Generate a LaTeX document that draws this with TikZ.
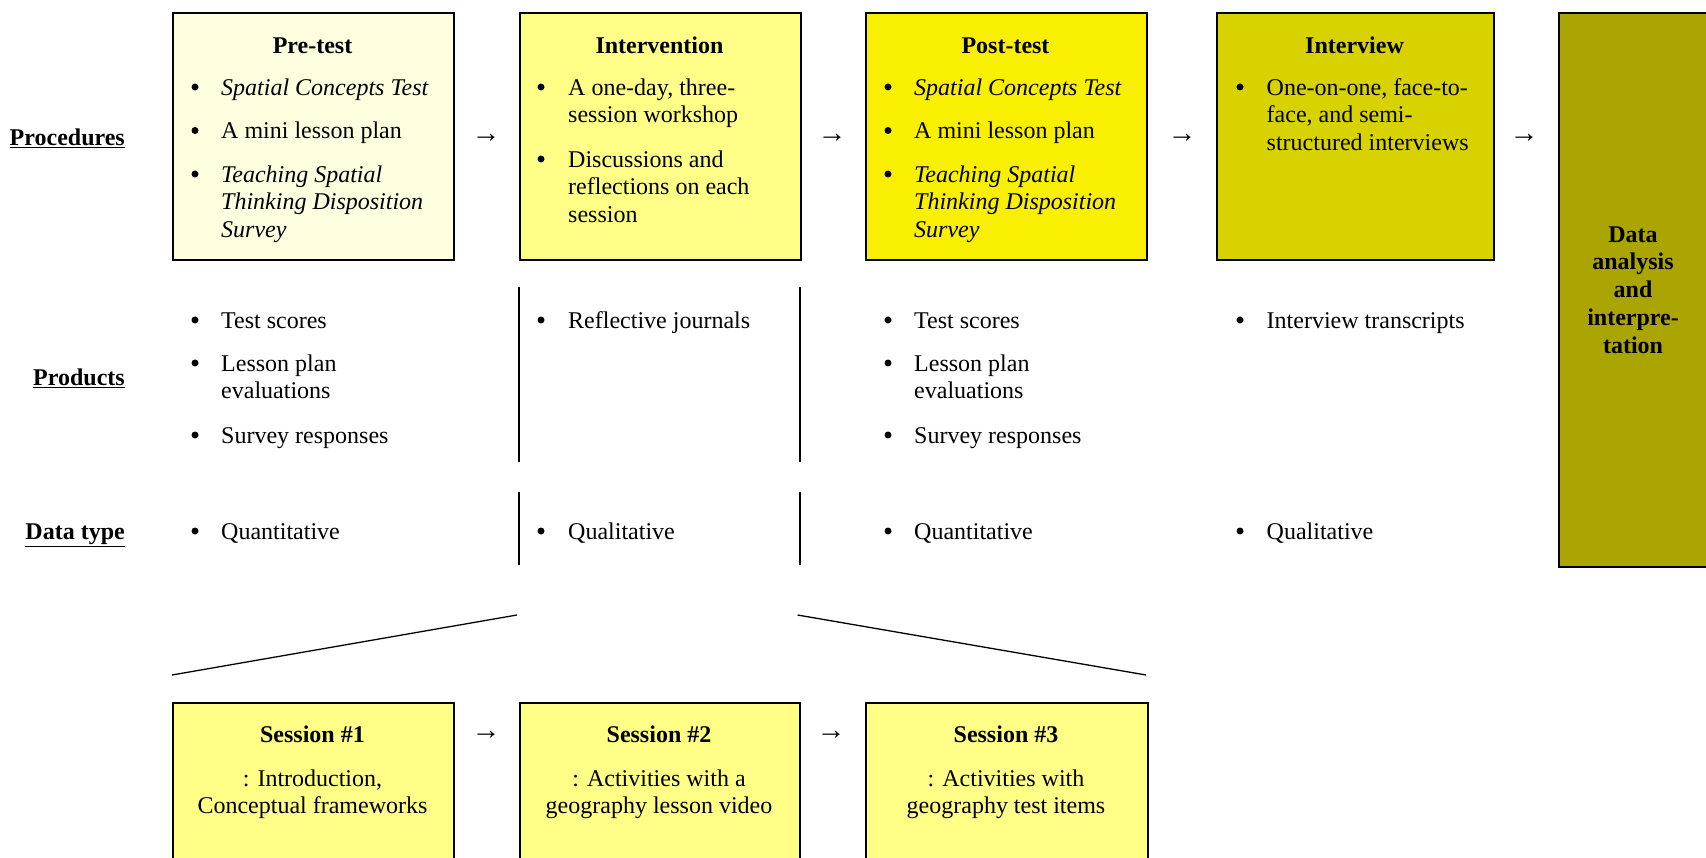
\documentclass[tikz,border=0pt]{standalone}
\usepackage{fontspec}
\setmainfont{Liberation Serif}
\definecolor{cpre}{HTML}{FFFFE0}
\definecolor{cint}{HTML}{FFFF88}
\definecolor{cpost}{HTML}{F8F000}
\definecolor{cintv}{HTML}{D7D200}
\definecolor{cdata}{HTML}{AAA500}
\tikzset{
  box/.style={draw, line width=1.8pt, inner sep=0, anchor=north west},
  ttl/.style={font=\fontsize{24}{27.5}\selectfont\bfseries, anchor=mid, inner sep=0},
  itm/.style={anchor=north west, inner sep=0, align=left},
  ctr/.style={anchor=north, inner sep=0, align=center},
  bul/.style={circle, fill=black, inner sep=0, minimum size=7pt},
  lbl/.style={font=\fontsize{24}{27.5}\selectfont\bfseries, anchor=mid east, inner sep=0},
  arr/.style={anchor=mid, inner sep=0, font=\fontsize{29}{30}\selectfont},
  sep/.style={line width=1.4pt},
  diag/.style={line width=1.3pt},
}
\begin{document}
\begin{tikzpicture}[x=1pt,y=-1pt,font=\fontsize{24}{27.5}\selectfont]
\useasboundingbox (0,0) rectangle (1706,858);
\clip (0,0) rectangle (1706,858);
% top boxes
\node[box, fill=cpre,  minimum width=281, minimum height=247] (pre)  at (172,12) {};
\node[box, fill=cint,  minimum width=281, minimum height=247] (int)  at (519,12) {};
\node[box, fill=cpost, minimum width=281, minimum height=247] (post) at (865,12) {};
\node[box, fill=cintv, minimum width=277, minimum height=247] (intv) at (1216,12) {};
\node[box, fill=cdata, minimum width=220, minimum height=554] (data) at (1558,12) {};
% titles
\node[ttl] (tpre)  at (312.5,51) {Pre-test};
\node[ttl] (tint)  at (659.5,51) {Intervention};
\node[ttl] (tpost) at (1005.5,51) {Post-test};
\node[ttl] (tintv) at (1354.5,51) {Interview};
\node[ctr, font=\fontsize{24}{27.75}\selectfont\bfseries] (tdata) at (1633,222.5) {\strut Data\\analysis\\and\\interpre-\\tation};
% arrows
\node[arr] (a1) at (486,140) {→};
\node[arr] (a2) at (832,140) {→};
\node[arr] (a3) at (1182,140) {→};
\node[arr] (a4) at (1524,140) {→};
% row labels
\node[lbl] (lproc) at (125,143.5) {\underline{Procedures}};
\node[lbl] (lprod) at (125,383.5) {\underline{Products}};
\node[lbl] (ltype) at (125,537) {\underline{Data type}};
% pre-test items
\node[bul] (pb1) at (195,87) {};
\node[itm] (pi1) at (221,75.7) {\strut\textit{Spatial Concepts Test}};
\node[bul] (pb2) at (195,130.5) {};
\node[itm] (pi2) at (221,119.2) {\strut A mini lesson plan};
\node[bul] (pb3) at (195,174) {};
\node[itm] (pi3) at (221,162.7) {\strut\textit{Teaching Spatial}\\\textit{Thinking Disposition}\\\textit{Survey}};
% intervention items
\node[bul] (ib1) at (541,87) {};
\node[itm] (ii1) at (568,75.7) {\strut A one-day, three-\\session workshop};
\node[bul] (ib2) at (541,159) {};
\node[itm] (ii2) at (568,147.7) {\strut Discussions and\\reflections on each\\session};
% post-test items
\node[bul] (qb1) at (888,87) {};
\node[itm] (qi1) at (914,75.7) {\strut\textit{Spatial Concepts Test}};
\node[bul] (qb2) at (888,130.5) {};
\node[itm] (qi2) at (914,119.2) {\strut A mini lesson plan};
\node[bul] (qb3) at (888,174) {};
\node[itm] (qi3) at (914,162.7) {\strut\textit{Teaching Spatial}\\\textit{Thinking Disposition}\\\textit{Survey}};
% interview items
\node[bul] (vb1) at (1240,87) {};
\node[itm] (vi1) at (1266.5,75.7) {\strut One-on-one, face-to-\\face, and semi-\\structured interviews};
% products
\node[bul] (rb1) at (195,320) {};
\node[itm] (ri1) at (221,308.7) {\strut Test scores};
\node[bul] (rb2) at (195,363) {};
\node[itm] (ri2) at (221,351.7) {\strut Lesson plan\\evaluations};
\node[bul] (rb3) at (195,435) {};
\node[itm] (ri3) at (221,423.7) {\strut Survey responses};
\node[bul] (sb1) at (541,320) {};
\node[itm] (si1) at (568,308.7) {\strut Reflective journals};
\node[bul] (tb1) at (888,320) {};
\node[itm] (ti1) at (914,308.7) {\strut Test scores};
\node[bul] (tb2) at (888,363) {};
\node[itm] (ti2) at (914,351.7) {\strut Lesson plan\\evaluations};
\node[bul] (tb3) at (888,435) {};
\node[itm] (ti3) at (914,423.7) {\strut Survey responses};
\node[bul] (ub1) at (1240,320) {};
\node[itm] (ui1) at (1266.5,308.7) {\strut Interview transcripts};
% data type
\node[bul] (db1) at (195,531) {};
\node[itm] (di1) at (221,519.7) {\strut Quantitative};
\node[bul] (db2) at (541,531) {};
\node[itm] (di2) at (568,519.7) {\strut Qualitative};
\node[bul] (db3) at (888,531) {};
\node[itm] (di3) at (914,519.7) {\strut Quantitative};
\node[bul] (db4) at (1240,531) {};
\node[itm] (di4) at (1266.5,519.7) {\strut Qualitative};
% separators
\coordinate (s1a) at (519,287); \coordinate (s1b) at (519,462);
\coordinate (s2a) at (800,287); \coordinate (s2b) at (800,462);
\coordinate (s3a) at (519,492); \coordinate (s3b) at (519,565);
\coordinate (s4a) at (800,492); \coordinate (s4b) at (800,565);
\draw[sep] (s1a) -- (s1b);
\draw[sep] (s2a) -- (s2b);
\draw[sep] (s3a) -- (s3b);
\draw[sep] (s4a) -- (s4b);
% diagonals
\coordinate (d1a) at (517,615); \coordinate (d1b) at (172,675);
\coordinate (d2a) at (797.5,615); \coordinate (d2b) at (1146,675);
\draw[diag] (d1a) -- (d1b);
\draw[diag] (d2a) -- (d2b);
% session boxes
\node[box, fill=cint, minimum width=281, minimum height=220] (s1) at (172,702) {};
\node[box, fill=cint, minimum width=280, minimum height=220] (s2) at (519,702) {};
\node[box, fill=cint, minimum width=282, minimum height=220] (s3) at (865,702) {};
\node[ttl] (ts1) at (312.5,740) {Session \#1};
\node[ttl] (ts2) at (659,740) {Session \#2};
\node[ttl] (ts3) at (1006,740) {Session \#3};
\node[ctr] (xs1) at (312.5,766.7) {\strut : Introduction,\\Conceptual frameworks};
\node[ctr] (xs2) at (659,766.7) {\strut : Activities with a\\geography lesson video};
\node[ctr] (xs3) at (1006,766.7) {\strut : Activities with\\geography test items};
\node[arr] (a5) at (486,737) {→};
\node[arr] (a6) at (831,737) {→};
\end{tikzpicture}
\end{document}
